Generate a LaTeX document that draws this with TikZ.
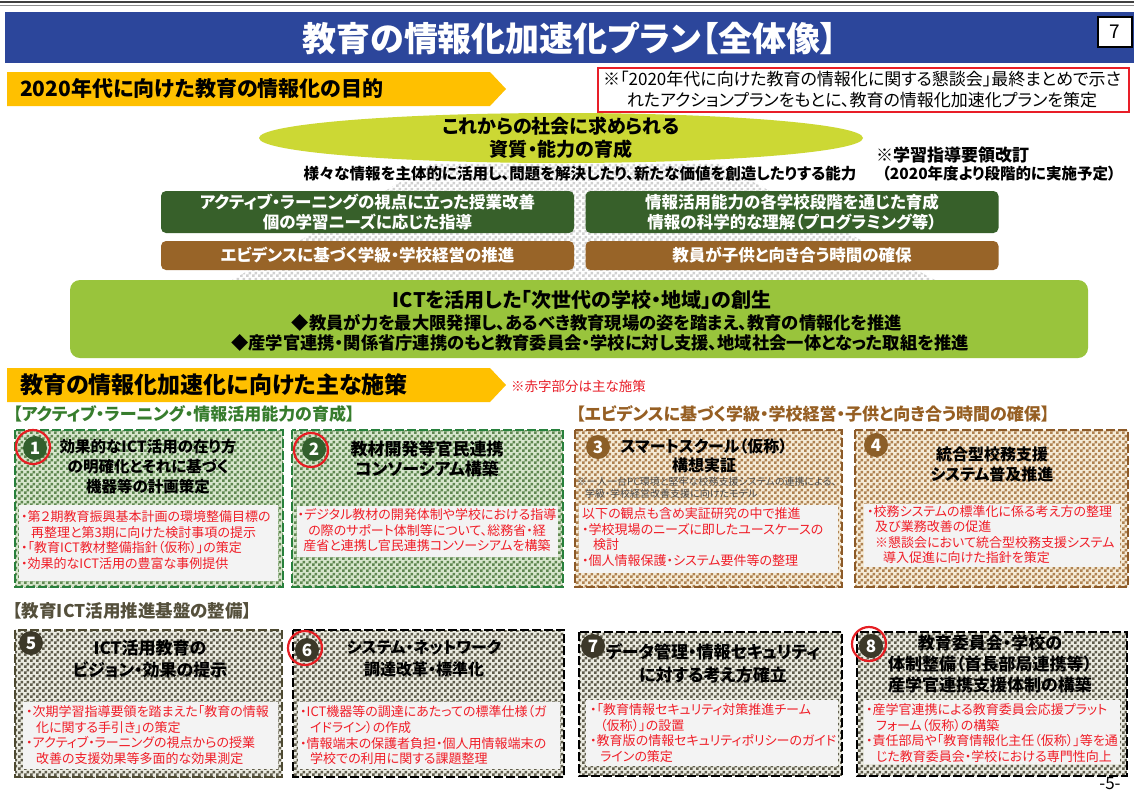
\documentclass[tikz,border=0pt]{standalone}
\usepackage{fontspec}
\setmainfont{Noto Sans CJK JP}[RawFeature=+palt]
\usetikzlibrary{patterns.meta}
\definecolor{titleblue}{RGB}{44,70,155}
\definecolor{hdr}{RGB}{255,192,0}
\definecolor{notered}{RGB}{232,30,40}
\definecolor{ellgreen}{RGB}{204,216,52}
\definecolor{dkgreen}{RGB}{55,96,42}
\definecolor{brownbox}{RGB}{152,100,40}
\definecolor{ictgreen}{RGB}{153,196,60}
\definecolor{secgreen}{RGB}{55,125,45}
\definecolor{secbrown}{RGB}{150,95,35}
\definecolor{secolive}{RGB}{85,80,60}
\definecolor{bordG}{RGB}{40,128,60}
\definecolor{bordB}{RGB}{140,90,40}
\definecolor{bordO}{RGB}{78,74,50}
\definecolor{lightG}{RGB}{215,230,205}
\definecolor{darkG}{RGB}{95,135,80}
\definecolor{lightB}{RGB}{245,235,215}
\definecolor{darkB}{RGB}{175,130,80}
\definecolor{lightO}{RGB}{235,235,225}
\definecolor{darkO}{RGB}{95,92,75}
\definecolor{innerfill}{RGB}{243,243,243}
\definecolor{redtxt}{RGB}{240,30,40}
\definecolor{numG}{RGB}{50,95,45}
\definecolor{numB}{RGB}{140,95,40}
\definecolor{numO}{RGB}{60,56,40}
\definecolor{ringred}{RGB}{230,30,35}
\newcommand\F[2]{\fontsize{#1pt}{#2pt}\selectfont}
\tikzdeclarepattern{
  name=chk,
  type=uncolored,
  bounding box={(0pt,0pt) and (6pt,6pt)},
  tile size={(6pt,6pt)},
  code={
    \pgfpathrectangle{\pgfpointorigin}{\pgfpoint{3pt}{3pt}}
    \pgfpathrectangle{\pgfpoint{3pt}{3pt}}{\pgfpoint{3pt}{3pt}}
    \pgfusepath{fill}
  }
}
\newcommand\chkbox[4]{\fill[#3] #1 rectangle #2; \fill[pattern=chk, pattern color=#4] #1 rectangle #2;}
\tikzset{
  lbl/.style={inner sep=0pt},
  gbox/.style={fill=dkgreen, text=white, rounded corners=5pt, minimum width=413pt, minimum height=42pt, align=center, inner sep=0pt, font=\F{16.5}{20}\bfseries},
  bbox/.style={fill=brownbox, text=white, rounded corners=5pt, minimum width=413pt, minimum height=29pt, align=center, inner sep=0pt, font=\F{16.5}{20}\bfseries},
  frameG/.style={draw=bordG, line width=2.8pt, dash pattern=on 9pt off 3pt},
  frameB/.style={draw=bordB, line width=2.8pt, dash pattern=on 9pt off 3pt},
  frameO/.style={draw=bordO, line width=2.8pt, dash pattern=on 9pt off 3pt},
  frameK/.style={draw=black, line width=2.8pt, dash pattern=on 9pt off 3pt},
  num/.style={circle, minimum size=24pt, inner sep=0pt, text=white, font=\F{17}{17}\bfseries},
  ring/.style={circle, draw=ringred, line width=2.2pt, minimum size=34pt, inner sep=0pt},
  ttl/.style={inner sep=0pt, align=center, font=\F{16}{20}\bfseries},
  body/.style={inner sep=0pt, anchor=north west, align=left, text=redtxt, font=\F{13}{15.6}},
}
\begin{document}
\begin{tikzpicture}[x=1pt,y=-1pt]
\useasboundingbox (0,0) rectangle (1134,793);
\fill[white] (0,0) rectangle (1134,793);
% top rule and title bar
\draw[line width=1.6pt, black!75] (0,2) -- (1134,2);
\draw[line width=0.6pt, black!45] (0,5.5) -- (1134,5.5);
\fill[titleblue] (5,12) rectangle (1134,63);
\node[lbl, font=\F{34}{40}\bfseries, text=white] (title) at (570,38) {教育の情報化加速化プラン【全体像】};
\node[draw=black, line width=1.4pt, fill=white, minimum width=34pt, minimum height=30pt, inner sep=0pt, font=\F{19}{19}] (pg) at (1115,32) {7};

% section header 1
\fill[hdr] (7,72) -- (490,72) -- (506,89) -- (490,106) -- (7,106) -- cycle;
\node[lbl, anchor=west, font=\F{21}{24}\bfseries] (h1) at (20,89) {2020年代に向けた教育の情報化の目的};
\node[draw=notered, fill=white, line width=2pt, minimum width=531pt, minimum height=44pt, inner sep=0pt] (notebox) at (863.5,90) {};
\node[lbl, align=center, font=\F{17}{21}] (note) at (862,90) {※「2020年代に向けた教育の情報化に関する懇談会」最終まとめで示さ\\れたアクションプランをもとに、教育の情報化加速化プランを策定};

% fan
\fill[white] (433,163) -- (718,163) -- (935,280) -- (232,280) -- cycle;
\fill[pattern=chk, pattern color=black!18] (433,163) -- (718,163) -- (935,280) -- (232,280) -- cycle;

% ellipse
\fill[ellgreen] (561,138) ellipse [x radius=302, y radius=25];
\node[lbl, align=center, font=\F{19}{23}\bfseries] (ellt) at (561,138) {これからの社会に求められる\\資質・能力の育成};
\node[lbl, font=\F{15.5}{18}\bfseries] (abil) at (580,174) {様々な情報を主体的に活用し、問題を解決したり、新たな価値を創造したりする能力};
\node[lbl, anchor=west, font=\F{17}{20}\bfseries] (rev1) at (876,155) {※学習指導要領改訂};
\node[lbl, anchor=west, font=\F{15.5}{18}\bfseries] (rev2) at (882,174) {（2020年度より段階的に実施予定）};

% green / brown boxes
\node[gbox] (g1) at (367.5,212) {アクティブ・ラーニングの視点に立った授業改善\\個の学習ニーズに応じた指導};
\node[gbox] (g2) at (792,212) {情報活用能力の各学校段階を通じた育成\\情報の科学的な理解（プログラミング等）};
\node[bbox] (b1) at (367.5,255.5) {エビデンスに基づく学級・学校経営の推進};
\node[bbox] (b2) at (792,255.5) {教員が子供と向き合う時間の確保};

% ICT box
\node[fill=ictgreen, rounded corners=10pt, minimum width=1018pt, minimum height=78pt, inner sep=0pt] (ict) at (579,319) {};
\node[lbl, font=\F{20}{24}\bfseries] (ictT) at (582,300) {ICTを活用した「次世代の学校・地域」の創生};
\node[lbl, font=\F{17.3}{21}\bfseries] (ictA) at (597,323) {◆教員が力を最大限発揮し、あるべき教育現場の姿を踏まえ、教育の情報化を推進};
\node[lbl, font=\F{17.3}{21}\bfseries] (ictB) at (600,343) {◆産学官連携・関係省庁連携のもと教育委員会・学校に対し支援、地域社会一体となった取組を推進};

% section header 2
\fill[hdr] (7,368) -- (490,368) -- (506,385) -- (490,402) -- (7,402) -- cycle;
\node[lbl, anchor=west, font=\F{23}{26}\bfseries] (h2) at (20,385) {教育の情報化加速化に向けた主な施策};
\node[lbl, anchor=west, text=notered, font=\F{13.5}{16}] (redn) at (511,386) {※赤字部分は主な施策};
\node[lbl, anchor=west, text=secgreen, font=\F{17}{20}\bfseries] (sg) at (13,414) {【アクティブ・ラーニング・情報活用能力の育成】};
\node[lbl, anchor=west, text=secbrown, font=\F{17}{20}\bfseries] (sb) at (576,414) {【エビデンスに基づく学級・学校経営・子供と向き合う時間の確保】};

% row 1 boxes
\chkbox{(15,430)}{(283,587)}{lightG}{darkG}
\draw[frameG] (15,430) rectangle (283,587);
\chkbox{(292,430)}{(563,587)}{lightG}{darkG}
\draw[frameG] (292,430) rectangle (563,587);
\chkbox{(575,430)}{(842,587)}{lightB}{darkB}
\draw[frameB] (575,430) rectangle (842,587);
\chkbox{(855,430)}{(1128,587)}{lightB}{darkB}
\draw[frameB] (855,430) rectangle (1128,587);

\fill[innerfill] (19,505) rectangle (278,581);
\fill[innerfill] (297,506) rectangle (558,557);
\fill[innerfill] (579,505) rectangle (838,573);
\fill[innerfill] (864,504) rectangle (1120,567);

\node[num, fill=numG] (c1) at (35,448) {1};
\node[ring] (rr1) at (33,447) {};
\node[num, fill=numG] (c2) at (314,449) {2};
\node[ring] (rr2) at (311,450) {};
\node[num, fill=numB] (c3) at (598,447) {3};
\node[num, fill=numB] (c4) at (876,445) {4};

\node[ttl, font=\F{15.5}{20}\bfseries] (t1) at (148,467) {効果的なICT活用の在り方\\の明確化とそれに基づく\\機器等の計画策定};
\node[ttl, font=\F{17}{20}\bfseries] (t2) at (427,459) {教材開発等官民連携\\コンソーシアム構築};
\node[ttl, font=\F{16}{19}\bfseries] (t3) at (704,456) {スマートスクール（仮称）\\構想実証};
\node[lbl, anchor=west, align=left, text=black!70, font=\F{10}{12}] (s3) at (577,488) {※一人一台PC環境と堅牢な校務支援システムの連携による、\\\hspace*{8pt}学級・学校経営改善支援に向けたモデル};
\node[ttl, font=\F{16}{20}\bfseries] (t4) at (992,464) {統合型校務支援\\システム普及推進};

\node[body] (r1) at (21,510.5) {・第２期教育振興基本計画の環境整備目標の\\\hspace*{10pt}再整理と第3期に向けた検討事項の提示\\・「教育ICT教材整備指針（仮称）」の策定\\・効果的なICT活用の豊富な事例提供};
\node[body, anchor=north, align=center] (r2) at (427,508.5) {・デジタル教材の開発体制や学校における指導\\の際のサポート体制等について、総務省・経\\産省と連携し官民連携コンソーシアムを構築};
\node[body] (r3) at (582,507.5) {以下の観点も含め実証研究の中で推進\\・学校現場のニーズに即したユースケースの\\\hspace*{11pt}検討\\・個人情報保護・システム要件等の整理};
\node[body, font=\F{13}{15.3}] (r4) at (867,505.5) {・校務システムの標準化に係る考え方の整理\\\hspace*{8pt}及び業務改善の促進\\\hspace*{8pt}※懇談会において統合型校務支援システム\\\hspace*{16pt}導入促進に向けた指針を策定};

% section 3 label
\node[lbl, anchor=west, text=secolive, font=\F{17.5}{20}\bfseries] (so) at (13,611) {【教育ICT活用推進基盤の整備】};

% row 2 boxes
\chkbox{(15,630)}{(282,777)}{lightO}{darkO}
\draw[frameO] (15,630) rectangle (282,777);
\chkbox{(293,630)}{(564,777)}{lightO}{darkO}
\draw[frameK] (293,630) rectangle (564,777);
\chkbox{(579,632)}{(842,776)}{lightO}{darkO}
\draw[frameK] (579,632) rectangle (842,776);
\chkbox{(857,632)}{(1127,776)}{lightO}{darkO}
\draw[frameK] (857,632) rectangle (1127,776);

\fill[innerfill] (23,702) rectangle (278,769);
\fill[innerfill] (298,702) rectangle (560,769);
\fill[innerfill] (586,700) rectangle (838,766);
\fill[innerfill] (864,700) rectangle (1120,764);

\node[num, fill=numO] (c5) at (31,643) {5};
\node[num, fill=numO] (c6) at (307,650) {6};
\node[ring] (rr6) at (305,648) {};
\node[num, fill=numO] (c7) at (593,646) {7};
\node[num, fill=numO] (c8) at (871,646) {8};
\node[ring] (rr8) at (869,644) {};

\node[ttl, font=\F{17}{22}\bfseries] (t5) at (150,659) {ICT活用教育の\\ビジョン・効果の提示};
\node[ttl, font=\F{16}{22}\bfseries] (t6) at (424,659) {システム・ネットワーク\\調達改革・標準化};
\node[ttl, font=\F{17}{23}\bfseries] (t7) at (713,663) {データ管理・情報セキュリティ\\に対する考え方確立};
\node[ttl, font=\F{17}{21}\bfseries] (t8) at (990,664) {教育委員会・学校の\\体制整備（首長部局連携等）\\産学官連携支援体制の構築};

\node[body] (r5) at (26,705.5) {・次期学習指導要領を踏まえた「教育の情報\\\hspace*{10pt}化に関する手引き」の策定\\・アクティブ・ラーニングの視点からの授業\\\hspace*{10pt}改善の支援効果等多面的な効果測定};
\node[body] (r6) at (300,705.5) {・ICT機器等の調達にあたっての標準仕様（ガ\\\hspace*{10pt}イドライン）の作成\\・情報端末の保護者負担・個人用情報端末の\\\hspace*{10pt}学校での利用に関する課題整理};
\node[body] (r7) at (590,703.5) {・「教育情報セキュリティ対策推進チーム\\\hspace*{10pt}（仮称）」の設置\\・教育版の情報セキュリティポリシーのガイド\\\hspace*{10pt}ラインの策定};
\node[body] (r8) at (866,703.5) {・産学官連携による教育委員会応援プラット\\\hspace*{10pt}フォーム（仮称）の構築\\・責任部局や「教育情報化主任（仮称）」等を通\\\hspace*{10pt}じた教育委員会・学校における専門性向上};

\node[lbl, font=\F{17}{20}] (pgnum) at (1110,784) {-5-};
\end{tikzpicture}
\end{document}
